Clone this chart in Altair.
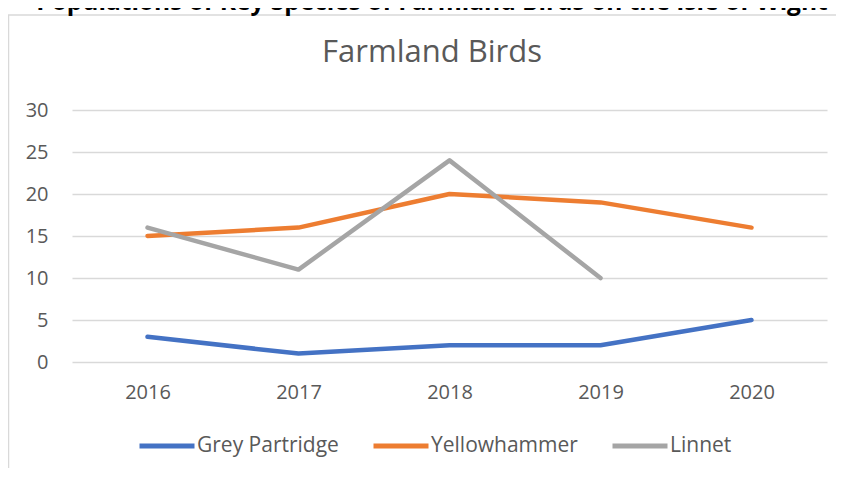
import altair as alt
import pandas as pd

years = ["2016", "2017", "2018", "2019", "2020"]
series_names = ["Grey Partridge", "Yellowhammer", "Linnet"]
grey_partridge = [3, 1, 2, 2, 5]
yellowhammer = [15, 16, 20, 19, 16]
linnet = [16, 11, 24, 10, None]
colors = ["#4472C4", "#ED7D31", "#A5A5A5"]
y_ticks = [0, 5, 10, 15, 20, 25, 30]
main_title = "Populations of Key Species of Farmland Birds on the Isle of Wight"
chart_title = "Farmland Birds"

rows = []
for name, vals in zip(series_names, [grey_partridge, yellowhammer, linnet]):
    for yr, v in zip(years, vals):
        if v is not None:
            rows.append({"Year": yr, "Species": name, "Count": v})
df = pd.DataFrame(rows)

W, H = 755, 252
PL, PT, PR, PB = 64, 102, 9, 106

one = pd.DataFrame({"a": [0]})

lines = alt.Chart(df).mark_line(strokeWidth=4.5, strokeCap="round", strokeJoin="round").encode(
    x=alt.X("Year:N", sort=years, title=None,
            axis=alt.Axis(labelAngle=0, ticks=False, domain=False, grid=False,
                          labelPadding=20, labelFontSize=20, labelColor="#595959")),
    y=alt.Y("Count:Q", title=None, scale=alt.Scale(domain=[0, 30], nice=False),
            axis=alt.Axis(values=y_ticks, ticks=False, domain=False, grid=True,
                          gridColor="#D9D9D9", gridWidth=1.5, labelPadding=24,
                          labelFontSize=20, labelColor="#595959")),
    color=alt.Color("Species:N", sort=series_names,
                    scale=alt.Scale(domain=series_names, range=colors),
                    legend=alt.Legend(title=None, orient="none", direction="horizontal",
                                      legendX=65, legendY=306, symbolType="stroke",
                                      symbolSize=3025, symbolStrokeWidth=5,
                                      labelFontSize=21, labelColor="#595959",
                                      labelOffset=0, columnPadding=24)),
)

border_left = alt.Chart(one).mark_rule(color="#D9D9D9", strokeWidth=1.5).encode(
    x=alt.value(-63.5), y=alt.value(-95), y2=alt.value(H + PB)
)
border_top = alt.Chart(one).mark_rule(color="#D9D9D9", strokeWidth=1.5).encode(
    x=alt.value(-PL), x2=alt.value(W + PR), y=alt.value(-95)
)

title_text = alt.Chart(one).mark_text(
    text=chart_title, fontSize=31, color="#595959", align="center", baseline="alphabetic"
).encode(x=alt.value(360), y=alt.value(-48))

top_text = alt.Chart(one).mark_text(
    text=main_title, fontSize=24.5, fontWeight="bold", color="#000000",
    align="center", baseline="alphabetic"
).encode(x=alt.value(360), y=alt.value(-100))

chart = alt.layer(border_left, border_top, top_text, title_text, lines).properties(
    width=W, height=H,
    autosize=alt.AutoSizeParams(type="none"),
    padding={"left": PL, "top": PT, "right": PR, "bottom": PB},
).configure(font="Open Sans").configure_view(stroke=None)

chart.save("out.html", embed_options={"renderer": "svg", "actions": False})
